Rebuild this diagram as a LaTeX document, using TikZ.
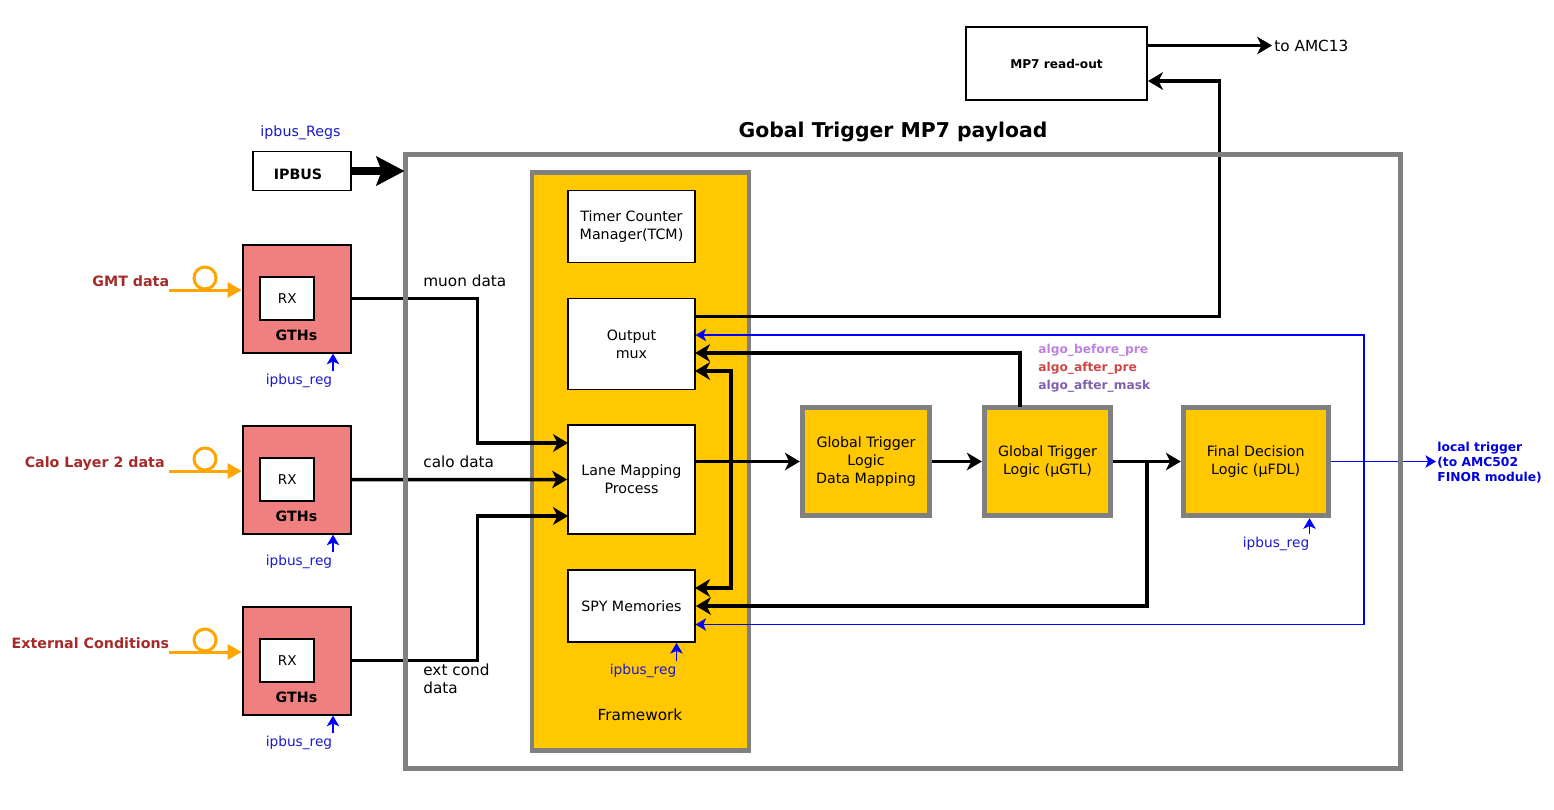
\documentclass[tikz,border=0pt]{standalone}
\usepackage{fontspec}
\setmainfont{DejaVu Sans}
\usetikzlibrary{arrows.meta}
\definecolor{gold}{HTML}{FFC800}
\definecolor{coral}{HTML}{F08080}
\definecolor{framegray}{HTML}{808080}
\definecolor{fiberorange}{HTML}{FFA500}
\definecolor{regblue}{HTML}{1A1AC8}
\definecolor{inputred}{HTML}{A52A2A}
\tikzset{
  whitebox/.style={draw=black, fill=white, line width=1.1pt, inner sep=0pt, align=center},
  goldbox/.style={draw=framegray, fill=gold, line width=2.8pt, inner sep=0pt, align=center},
  gthbox/.style={draw=black, fill=coral, line width=1.1pt, inner sep=0pt},
  bus/.style={draw=black, line width=2pt, -{Stealth[length=8.5pt,width=10pt,inset=2.5pt]}},
  regline/.style={draw=blue, line width=1.05pt, -{Stealth[length=6pt,width=7pt,inset=1.5pt]}},
  fiber/.style={draw=fiberorange, line width=1.7pt, -{Triangle[length=8pt,width=8.5pt]}},
  fiberloop/.style={draw=fiberorange, circle, line width=1.7pt, minimum size=0.44cm, inner sep=0pt},
  main/.style={inner sep=0pt, font=\fontsize{8.7}{10.2}\selectfont, align=center},
  boxtext/.style={inner sep=0pt, font=\fontsize{8.1}{10.2}\selectfont, align=center},
  reglabel/.style={inner sep=0pt, text=regblue, font=\fontsize{7.8}{9}\selectfont},
  boldlabel/.style={inner sep=0pt, font=\fontsize{8.1}{10}\selectfont\bfseries},
  inputlabel/.style={boldlabel, text=inputred, anchor=east},
  algolabel/.style={inner sep=0pt, anchor=west, font=\fontsize{6.95}{8}\selectfont\bfseries},
}
\begin{document}
\begin{tikzpicture}[x=0.02cm,y=-0.02cm]
  \useasboundingbox (0,0) rectangle (1554,809);
  % Titel
  \node[inner sep=0pt, font=\fontsize{11.6}{13}\selectfont\bfseries] (title) at (893,131.5) {Gobal Trigger MP7 payload};
  % Framework
  \node[goldbox, minimum width=4.34cm, minimum height=11.56cm] (framework) at (640.5,461.5) {};
  \node[main] (frameworktext) at (640,715) {Framework};
  \node[whitebox, boxtext, minimum width=2.54cm, minimum height=1.44cm] (tcm) at (631.5,226.5) {Timer Counter\\Manager(TCM)};
  \node[whitebox, boxtext, minimum width=2.54cm, minimum height=1.82cm] (outmux) at (631.5,344) {Output\\mux};
  \node[whitebox, boxtext, minimum width=2.54cm, minimum height=2.18cm] (lanemap) at (631.5,479.5) {Lane Mapping\\Process};
  \node[whitebox, boxtext, minimum width=2.54cm, minimum height=1.44cm] (spymem) at (631.5,606) {SPY Memories};
  % Logik
  \node[goldbox, boxtext, minimum width=2.55cm, minimum height=2.16cm] (gtldm) at (866,461.5) {Global Trigger\\Logic\\Data Mapping};
  \node[goldbox, boxtext, minimum width=2.53cm, minimum height=2.16cm] (gtl) at (1047.5,461.5) {Global Trigger\\Logic (µGTL)};
  \node[goldbox, boxtext, minimum width=2.9cm, minimum height=2.17cm] (fdl) at (1255.7,461.5) {Final Decision\\Logic (µFDL)};
  % Read-out
  \node[whitebox, minimum width=3.62cm, minimum height=1.46cm, font=\fontsize{6.9}{8}\selectfont\bfseries] (readout) at (1056.5,63.5) {MP7 read-out};
  \node[main, anchor=west] (amc) at (1274,45.5) {to AMC13};
  % IPBUS
  \node[whitebox, minimum width=1.95cm, minimum height=0.78cm] (ipbus) at (302,171) {};
  \node[boldlabel] (ipbustext) at (298,174) {IPBUS};
  \node[reglabel, font=\fontsize{8.1}{9}\selectfont] (ipbusregs) at (300.5,133) {ipbus\_Regs};
  % GTHs
  \node[gthbox, minimum size=2.16cm] (gthmuon) at (296.7,298.7) {};
  \node[whitebox, minimum width=1.08cm, minimum height=0.86cm, font=\fontsize{7.7}{9}\selectfont] (rxmuon) at (287.3,298.5) {RX};
  \node[boldlabel] (gthsmuon) at (296.5,335.5) {GTHs};
  \node[reglabel] (regmuon) at (299,380.5) {ipbus\_reg};
  \node[gthbox, minimum size=2.16cm] (gthcalo) at (296.7,479.7) {};
  \node[whitebox, minimum width=1.08cm, minimum height=0.86cm, font=\fontsize{7.7}{9}\selectfont] (rxcalo) at (287.3,479.5) {RX};
  \node[boldlabel] (gthscalo) at (296.5,516.5) {GTHs};
  \node[reglabel] (regcalo) at (299,561.5) {ipbus\_reg};
  \node[gthbox, minimum size=2.16cm] (gthext) at (296.7,660.7) {};
  \node[whitebox, minimum width=1.08cm, minimum height=0.86cm, font=\fontsize{7.7}{9}\selectfont] (rxext) at (287.3,660.5) {RX};
  \node[boldlabel] (gthsext) at (296.5,697.5) {GTHs};
  \node[reglabel] (regext) at (299,742.5) {ipbus\_reg};
  % Eingaenge
  \node[inputlabel] (gmtdata) at (169.5,281) {GMT data};
  \node[inputlabel] (calodata) at (165,463.5) {Calo Layer 2 data};
  \node[inputlabel] (extdata) at (169.5,643) {External Conditions};
  \coordinate (fibermuon) at (169,290);
  \coordinate (fibercalo) at (169,471);
  \coordinate (fiberext) at (169,652);
  \node[fiberloop] (loopmuon) at (205,278) {};
  \node[fiberloop] (loopcalo) at (205,459) {};
  \node[fiberloop] (loopext) at (205,640) {};
  \draw[fiber] (fibermuon) -- (fibermuon -| gthmuon.west);
  \draw[fiber] (fibercalo) -- (fibercalo -| gthcalo.west);
  \draw[fiber] (fiberext) -- (fiberext -| gthext.west);
  % Daten
  \node[main, anchor=west] (muonlabel) at (423,281) {muon data};
  \node[main, anchor=west] (calolabel) at (423,462) {calo data};
  \node[main, anchor=west, align=left] (extlabel) at (423,679) {ext cond\\data};
  \coordinate (lanemuon) at (568,443);
  \coordinate (laneext) at (568,516);
  \coordinate (busmuon) at (477.5,298.7);
  \coordinate (busext) at (477.5,660.7);
  \draw[bus] (gthmuon.east) -- (busmuon) |- (lanemuon);
  \draw[bus] (gthcalo.east) -- (lanemap.west);
  \draw[bus] (gthext.east) -- (busext) |- (laneext);
  % Ausgang
  \coordinate (laneout) at (695,461.5);
  \coordinate (muxout) at (695,316.5);
  \coordinate (muxgtl) at (695,353);
  \coordinate (muxspy) at (695,371);
  \coordinate (spymux) at (695,588);
  \coordinate (busright) at (731,371);
  \coordinate (gtltop) at (1020,407);
  \coordinate (readin) at (1148,81);
  \coordinate (readbus) at (1219.5,81);
  \coordinate (readnode) at (1272,45.5);
  \coordinate (tapspy) at (1147,461.5);
  \draw[bus] (laneout) -- (laneout -| gtldm.west);
  \draw[bus] (gtldm.east) -- (gtl.west);
  \draw[bus] (gtl.east) -- (fdl.west);
  \draw[bus] (muxout) -- (muxout -| readbus) -- (readbus) -- (readin);
  \draw[bus] (readin |- readnode) -- (readnode);
  \draw[bus] (gtltop) -- (gtltop |- muxgtl) -- (muxgtl);
  \draw[bus, {Stealth[length=8.5pt,width=10pt,inset=2.5pt]}-{Stealth[length=8.5pt,width=10pt,inset=2.5pt]}] (muxspy) -- (busright) |- (spymux);
  \draw[bus] (tapspy) |- (spymem.east);
  % Algo-Bits
  \node[algolabel, text={rgb,255:red,190;green,130;blue,225}] (algobefore) at (1038,350.5) {algo\_before\_pre};
  \node[algolabel, text={rgb,255:red,208;green,70;blue,70}] (algoafter) at (1038,368.5) {algo\_after\_pre};
  \node[algolabel, text={rgb,255:red,128;green,96;blue,176}] (algomask) at (1038,386.5) {algo\_after\_mask};
  % Blaue Leitungen
  \coordinate (muxblue) at (695.5,335);
  \coordinate (spyblue) at (695.5,624.5);
  \coordinate (bluetap) at (1364,461.5);
  \coordinate (localout) at (1436,461.5);
  \draw[regline] (fdl.east) -- (localout);
  \draw[regline] (bluetap) -- (bluetap |- muxblue) -- (muxblue);
  \draw[regline] (bluetap) -- (bluetap |- spyblue) -- (spyblue);
  \node[algolabel, text=blue!88!black, align=left, font=\fontsize{7}{8.5}\selectfont\bfseries] (localtext) at (1437,462.5) {local trigger\\(to AMC502\\FINOR module)};
  % ipbus Pfeile
  \coordinate (tailmuon) at (333,371);
  \coordinate (tailcalo) at (333,552);
  \coordinate (tailext) at (333,733);
  \coordinate (tailspy) at (676.5,661);
  \coordinate (tailfdl) at (1309.5,534);
  \draw[regline] (tailmuon) -- (tailmuon |- gthmuon.south);
  \draw[regline] (tailcalo) -- (tailcalo |- gthcalo.south);
  \draw[regline] (tailext) -- (tailext |- gthext.south);
  \draw[regline] (tailspy) -- (tailspy |- spymem.south);
  \draw[regline] (tailfdl) -- (tailfdl |- fdl.south);
  \node[reglabel] (regspy) at (643,670.5) {ipbus\_reg};
  \node[reglabel] (regfdl) at (1276,543.5) {ipbus\_reg};
  % Rahmen
  \node[draw=framegray, line width=2.8pt, inner sep=0pt, minimum width=19.9cm, minimum height=12.29cm] (payload) at (903,461.75) {};
  \coordinate (payloadin) at (404.5,171);
  \draw[line width=5pt, -{Stealth[length=16pt,width=16.5pt,inset=3pt]}] (ipbus.east) -- (payloadin);
\end{tikzpicture}
\end{document}
